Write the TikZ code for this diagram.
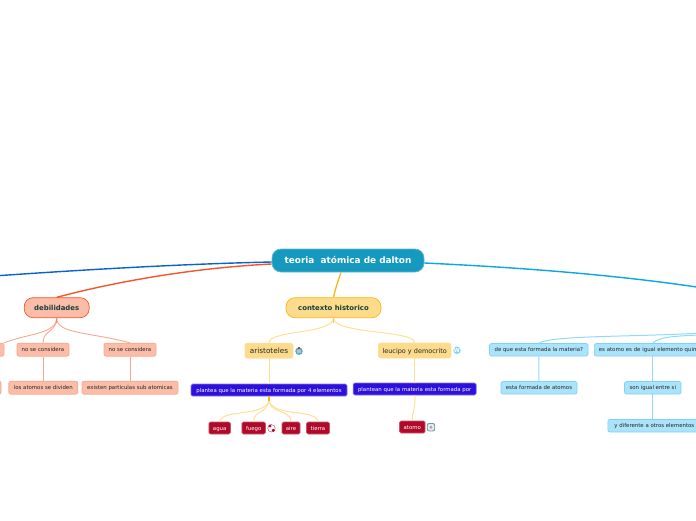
\documentclass[tikz,border=0pt]{standalone}
\usepackage{fontspec}
\setmainfont{DejaVu Sans}
\definecolor{rootc}{HTML}{1699BE}
\definecolor{blueL}{HTML}{0A62D0}
\definecolor{oraL}{HTML}{F4562A}
\definecolor{yelL}{HTML}{FCB514}
\definecolor{cyaL}{HTML}{0AA5E8}
\definecolor{oraF}{HTML}{FBBCA8}
\definecolor{oraD}{HTML}{FBA78F}
\definecolor{yelF}{HTML}{FCDC8C}
\definecolor{yelD}{HTML}{FDDF97}
\definecolor{cyaF}{HTML}{ABE3FA}
\definecolor{cyaD}{HTML}{7DD3F7}
\definecolor{purF}{HTML}{2E10DC}
\definecolor{redF}{HTML}{B00A2A}
\definecolor{darkT}{HTML}{14403A}
\tikzset{
  box/.style={rectangle,inner sep=0pt,align=center,line width=0.7pt},
  rootbox/.style={box,rounded corners=9pt,fill=rootc,draw=rootc!70!white,text=white,text height=8.5pt,text depth=1.8pt,font=\fontsize{8.9}{10}\selectfont\bfseries},
  mainora/.style={box,rounded corners=9pt,fill=oraF,draw=oraL,text=darkT,text height=6.6pt,text depth=1.4pt,font=\fontsize{6.9}{8}\selectfont\bfseries},
  mainyel/.style={box,rounded corners=9pt,fill=yelF,draw=yelL,text=darkT,text height=6.6pt,text depth=1.4pt,font=\fontsize{6.9}{8}\selectfont\bfseries},
  smallora/.style={box,rounded corners=2pt,fill=oraF,draw=oraD,text=black!85,text height=5.2pt,text depth=1.1pt,font=\fontsize{5.4}{6}\selectfont},
  smallcya/.style={box,rounded corners=2pt,fill=cyaF,draw=cyaD,text=black!85,text height=5.2pt,text depth=1.1pt,font=\fontsize{5.4}{6}\selectfont},
  yelbox/.style={box,rounded corners=2.5pt,fill=yelF,draw=yelD,text=black!85,text height=6.7pt,text depth=1.4pt,font=\fontsize{6.5}{8}\selectfont},
  yelboxwide/.style={yelbox,font=\fontsize{7.3}{8}\selectfont},
  purbox/.style={box,rounded corners=1.5pt,fill=purF,draw=purF!60!white,text=white,text height=5.2pt,text depth=1.1pt,font=\fontsize{5.4}{6}\selectfont},
  redbox/.style={box,rounded corners=1.5pt,fill=redF,draw=redF!70!white,text=white,text height=5.2pt,text depth=1.1pt,font=\fontsize{5.4}{6}\selectfont},
  thickb/.style={line width=1.4pt},
  linkora/.style={draw=oraD,line width=0.9pt},
  linkyel/.style={draw=yelD,line width=1pt},
  linkcya/.style={draw=cyaD!85!white,line width=1pt},
  icon/.style={circle,inner sep=0pt,minimum size=7.5pt}
}
\begin{document}
\begin{tikzpicture}[x=1pt,y=-1pt]
\useasboundingbox (0,0) rectangle (696,520);
\coordinate (offL) at (-2,275.7);
\coordinate (offR) at (700,287.5);
\coordinate (offR2) at (700,333);
\coordinate (offR3) at (700,335);
\node[rootbox,minimum width=152pt,minimum height=23pt] (root) at (348,260.5) {teoria\ \ atómica de dalton};
\node[mainora,minimum width=65pt,minimum height=20pt] (deb) at (56.7,307.7) {debilidades};
\node[mainyel,minimum width=95pt,minimum height=20pt] (ctx) at (333.5,307.7) {contexto historico};
\node[smallora,minimum width=52pt,minimum height=13pt] (nc0) at (-22,349.7) {};
\node[smallora,minimum width=52pt,minimum height=13pt] (nc1) at (43,349.7) {no se considera};
\node[smallora,minimum width=52pt,minimum height=13pt] (nc2) at (130,349.7) {no se considera};
\node[smallora,minimum width=40pt,minimum height=13pt] (n00) at (-19,387.7) {};
\node[smallora,minimum width=69pt,minimum height=13pt] (los) at (43.3,387.7) {los atomos se dividen};
\node[smallora,minimum width=96pt,minimum height=13pt] (exi) at (130,387.7) {existen particulas sub atomicas};
\node[yelboxwide,minimum width=48pt,minimum height=15pt] (ari) at (269,350.7) {aristoteles};
\node[yelbox,minimum width=72.5pt,minimum height=15pt] (leu) at (414.7,350.5) {leucipo y democrito};
\node[purbox,minimum width=156pt,minimum height=12pt] (pla) at (269,390) {plantea que la materia esta formada por 4 elementos};
\node[purbox,minimum width=123pt,minimum height=12pt] (pln) at (414.7,389) {plantean que la materia esta formada por};
\node[redbox,minimum width=21.5pt,minimum height=12pt] (agu) at (219.7,428) {agua};
\node[redbox,minimum width=23.5pt,minimum height=12pt] (fue) at (253.7,428) {fuego};
\node[redbox,minimum width=18pt,minimum height=12pt] (air) at (291,428) {aire};
\node[redbox,minimum width=23pt,minimum height=12pt] (tie) at (318,428) {tierra};
\node[redbox,minimum width=25.5pt,minimum height=12pt] (ato) at (412.3,427) {atomo};
\node[smallcya,minimum width=98.5pt,minimum height=12.5pt] (dqu) at (538.8,349.8) {de que esta formada la materia?};
\node[smallcya,minimum width=130pt,minimum height=12.5pt,anchor=west,text width=128pt,align=left] (esa) at (594,349.8) {\hspace*{3.5pt}es atomo es de igual elemento quimico};
\node[smallcya,minimum width=76pt,minimum height=12.5pt] (est) at (539,387.8) {esta formada de atomos};
\node[smallcya,minimum width=56.5pt,minimum height=12.5pt] (son) at (652.8,387.8) {son igual entre si};
\node[smallcya,minimum width=93pt,minimum height=12.5pt,anchor=west] (ydi) at (607.5,425.8) {y diferente a otros elementos};
% icons
\node[icon,fill=rootc!80!white] (ic1) at (299,351.2) {};
\fill[black!25!white] (ic1.center) circle (2.2pt);
\fill[redF] (299,348) circle (1.2pt);
\node[icon,fill=cyaL!50!white] (ic2) at (457,350.3) {};
\node[text=white,font=\fontsize{5.5}{6}\selectfont\bfseries,inner sep=0pt] (ic2t) at (ic2.center) {W};
\node[icon,fill=white,draw=redF!80!white,line width=0.4pt] (ic3) at (271.5,428.3) {};
\fill[redF] (270,426) circle (1.6pt) (273.3,430.3) circle (1.7pt);
\node[rectangle,rounded corners=2pt,inner sep=0pt,minimum size=7.5pt,draw=black!20!cyaD!50!gray,fill=black!8,line width=0.9pt] (ic4) at (431,427.2) {};
\fill[gray!70] (431,427.2) circle (1.6pt);
% connectors
\draw[blueL,thickb] (root.west) ++(0,1.5) coordinate (rw1) (rw1) .. controls (180,264) and (80,270) .. (offL);
\draw[oraL,thickb] (root.west) ++(0,3.5) coordinate (rw2) (rw2) .. controls (190,268) and (110,283) .. (deb.north);
\draw[cyaL,thickb] (root.east) ++(0,2.5) coordinate (re1) (re1) .. controls (510,267) and (610,274) .. (offR);
\draw[yelL,line width=1.3pt] (root.south) ++(-7,0) coordinate (rs1) (rs1) .. controls (338,281) and (335,290) .. (ctx.north);
\draw[linkora] (deb.south) .. controls +(0,16) and (90,332) .. (nc2.north);
\draw[linkora] (deb.south) .. controls +(0,14) and (43,330) .. (nc1.north);
\draw[linkora] (deb.south) .. controls +(0,16) and (25,334) .. (nc0.north east);
\draw[oraL!70!white,line width=1pt] (deb.south) -- ++(0,5);
\draw[linkora] (nc1.south) -- (los.north -| nc1.south);
\draw[linkora] (nc2.south) -- (exi.north);
\draw[linkyel] (ctx.south) .. controls +(0,16) and (269,330) .. (ari.north);
\draw[linkyel] (ctx.south) .. controls +(0,16) and (414,330) .. (leu.north);
\draw[yelL!70!white,line width=1pt] (ctx.south) -- ++(0,5);
\draw[linkyel] (ari.south) -- (pla.north);
\draw[linkyel] (leu.south) -- (pln.north);
\draw[yelL,line width=1.2pt] (pla.south) -- ++(0,5) coordinate (hub);
\draw[linkyel] (hub) .. controls (262,417) and (222,409) .. (agu.north);
\draw[linkyel] (hub) .. controls (266,414) and (254,410) .. (fue.north);
\draw[linkyel] (hub) .. controls (272,414) and (291,410) .. (air.north);
\draw[linkyel] (hub) .. controls (275,417) and (317,409) .. (tie.north);
\draw[linkyel] (pln.south) .. controls (416,408) and (412,412) .. (ato.north);
\draw[linkcya] (dqu.north) .. controls (552,335) and (640,337) .. (offR2);
\draw[linkcya] (son.north |- esa.north) .. controls (658,337) and (675,336) .. (offR3);
\draw[linkcya] (dqu.south) -- (est.north);
\draw[linkcya] (son.north |- esa.south) -- (son.north);
\draw[linkcya] (son.south) -- (son.south |- ydi.north);
\end{tikzpicture}
\end{document}
